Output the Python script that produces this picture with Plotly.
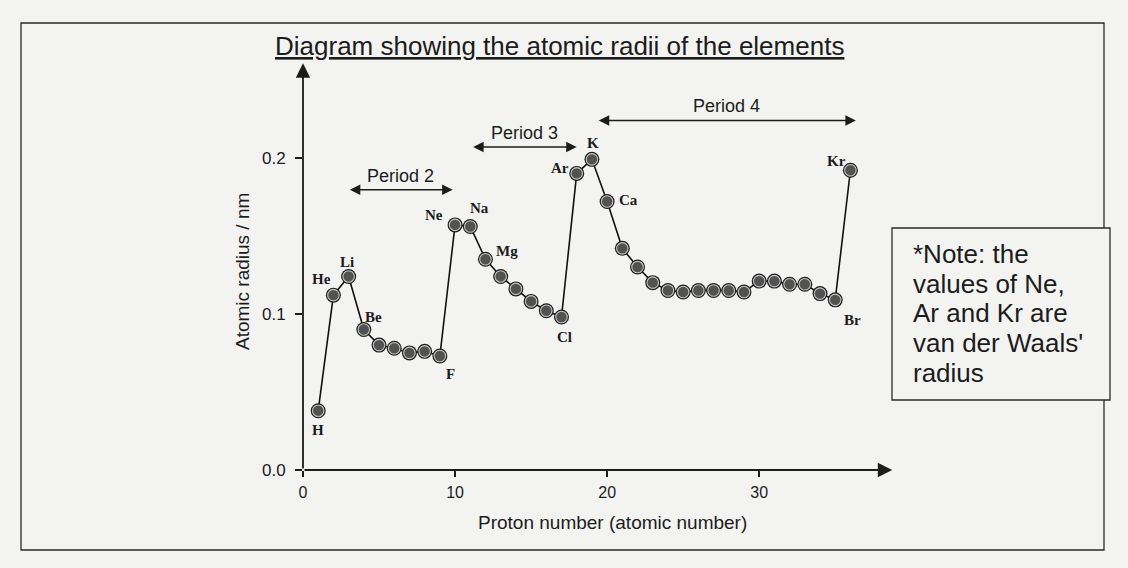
import plotly.graph_objects as go

# ---------------- data ----------------
proton_number = list(range(1, 37))
atomic_radius = [0.038, 0.112, 0.124, 0.090, 0.080, 0.078, 0.075, 0.076, 0.073,
                 0.157, 0.156, 0.135, 0.124, 0.116, 0.108, 0.102, 0.098, 0.190,
                 0.199, 0.172, 0.142, 0.130, 0.120, 0.115, 0.114, 0.115, 0.115,
                 0.115, 0.114, 0.121, 0.121, 0.119, 0.119, 0.113, 0.109, 0.192]

label_symbols = ["H", "He", "Li", "Be", "F", "Ne", "Na", "Mg", "Cl", "Ar", "K", "Ca", "Br", "Kr"]
label_numbers = [1, 2, 3, 4, 9, 10, 11, 12, 17, 18, 19, 20, 35, 36]
# label offsets in pixels (dx right, dy down)
label_dx = [0, -12, -2, 10, 11, -21, 9, 22, 3, -17, 1, 21, 17, -14]
label_dy = [19, -16, -14, -13, 18, -10, -18, -8, 20, -5, -16, -2, 20, -9]

period_names = ["Period 2", "Period 3", "Period 4"]
period_start = [2.98, 11.09, 19.35]
period_end = [9.84, 18.0, 36.36]
period_level = [0.1795, 0.2069, 0.2239]

x_ticks = [0, 10, 20, 30]
y_ticks = [0.0, 0.1, 0.2]

note_lines = ["*Note: the", "values of Ne,", "Ar and Kr are", "van der Waals'", "radius"]

# ---------------- layout geometry ----------------
W, H = 1128, 568
ML, MT, MB = 303, 61, 98
X_MAX, Y_MAX = 38.8, 0.262
PW = 590
MR = W - ML - PW
PH = H - MT - MB

def px_x(px):
    return (px - ML) / PW

def px_y(py):
    return (H - MB - py) / PH

BG = "#f3f3f1"
INK = "#1c1c1c"
SANS = "Liberation Sans, Arial, sans-serif"
SERIF = "Liberation Serif, Times New Roman, serif"

fig = go.Figure()

fig.add_trace(go.Scatter(
    x=proton_number, y=atomic_radius, mode="lines+markers",
    line=dict(color="#111", width=1.6),
    marker=dict(size=15, color="#1e1e1e"),
    hoverinfo="skip", showlegend=False, cliponaxis=False))
fig.add_trace(go.Scatter(
    x=proton_number, y=atomic_radius, mode="markers",
    marker=dict(size=11.5, color="#525252", line=dict(color="#c4c4c4", width=1.1)),
    hoverinfo="skip", showlegend=False, cliponaxis=False))

ann = []
# element labels
for sym, z, dx, dy in zip(label_symbols, label_numbers, label_dx, label_dy):
    ann.append(dict(x=z, y=atomic_radius[z - 1], xref="x", yref="y", text="<b>" + sym + "</b>",
                    showarrow=False, xshift=dx, yshift=-dy, xanchor="center", yanchor="middle",
                    font=dict(family=SERIF, size=15, color=INK)))

# axis arrows
ann.append(dict(x=X_MAX - 0.05, y=0, ax=0, ay=0, xref="x", yref="y", axref="x", ayref="y",
                text="", showarrow=True, arrowhead=2, arrowsize=1.6, arrowwidth=1.8,
                arrowcolor=INK, standoff=0))
ann.append(dict(x=0, y=Y_MAX - 0.0015, ax=0, ay=0, xref="x", yref="y", axref="x", ayref="y",
                text="", showarrow=True, arrowhead=2, arrowsize=1.6, arrowwidth=1.8,
                arrowcolor=INK, standoff=0))

# period arrows
for name, s, e, lv in zip(period_names, period_start, period_end, period_level):
    ann.append(dict(x=e, y=lv, ax=s, ay=lv, xref="x", yref="y", axref="x", ayref="y",
                    text="", showarrow=True, arrowhead=2, startarrowhead=2,
                    arrowside="end+start", arrowsize=1.4, startarrowsize=1.4,
                    arrowwidth=1.5, arrowcolor=INK, standoff=0, startstandoff=0))
    ann.append(dict(x=(s + e) / 2, y=lv, xref="x", yref="y", text=name, showarrow=False,
                    xanchor="center", yanchor="middle",
                    yshift=14, font=dict(family=SANS, size=18, color=INK)))

# title
ann.append(dict(x=px_x(559), y=px_y(46), xref="paper", yref="paper",
                text="<u>Diagram showing the atomic radii of the elements</u>",
                xanchor="center", yanchor="middle",
                showarrow=False, font=dict(family=SANS, size=26, color=INK)))

# axis titles
ann.append(dict(x=px_x(242), y=px_y(272), xref="paper", yref="paper", text="Atomic radius / nm",
                xanchor="center", yanchor="middle",
                textangle=-90, showarrow=False, font=dict(family=SANS, size=19, color=INK)))
ann.append(dict(x=px_x(612), y=px_y(522), xref="paper", yref="paper",
                text="Proton number (atomic number)", xanchor="center", yanchor="middle",
                showarrow=False, font=dict(family=SANS, size=19, color=INK)))

# note text
note_baselines = [263, 293, 322, 352, 382]
for line, bl in zip(note_lines, note_baselines):
    ann.append(dict(x=px_x(911), y=px_y(bl - 9), xref="paper", yref="paper", text=line,
                    xanchor="left", yanchor="middle", showarrow=False,
                    font=dict(family=SANS, size=26, color=INK)))

shapes = [
    dict(type="rect", xref="paper", yref="paper", x0=px_x(21), x1=px_x(1104),
         y0=px_y(550), y1=px_y(23), line=dict(color="#2a2a2a", width=1.3), layer="below"),
    dict(type="rect", xref="paper", yref="paper", x0=px_x(892), x1=px_x(1110),
         y0=px_y(400), y1=px_y(228), line=dict(color="#2a2a2a", width=1.3),
         fillcolor=BG, layer="above"),
]

fig.update_layout(
    width=W, height=H,
    margin=dict(l=ML, r=MR, t=MT, b=MB, pad=0),
    paper_bgcolor=BG, plot_bgcolor=BG,
    annotations=ann, shapes=shapes,
    showlegend=False,
    xaxis=dict(range=[0, X_MAX], tickvals=x_ticks, ticktext=[str(v) for v in x_ticks],
               ticks="outside", ticklen=6, tickwidth=1.5, tickcolor=INK,
               showgrid=False, zeroline=False, showline=False,
               tickfont=dict(family=SANS, size=16, color=INK), ticklabelstandoff=2),
    yaxis=dict(range=[0, Y_MAX], tickvals=y_ticks, ticktext=["%.1f" % v for v in y_ticks],
               ticks="outside", ticklen=7, tickwidth=1.5, tickcolor=INK,
               showgrid=False, zeroline=False, showline=False,
               tickfont=dict(family=SANS, size=17, color=INK), ticklabelstandoff=6),
)

fig.write_html("out.html")
